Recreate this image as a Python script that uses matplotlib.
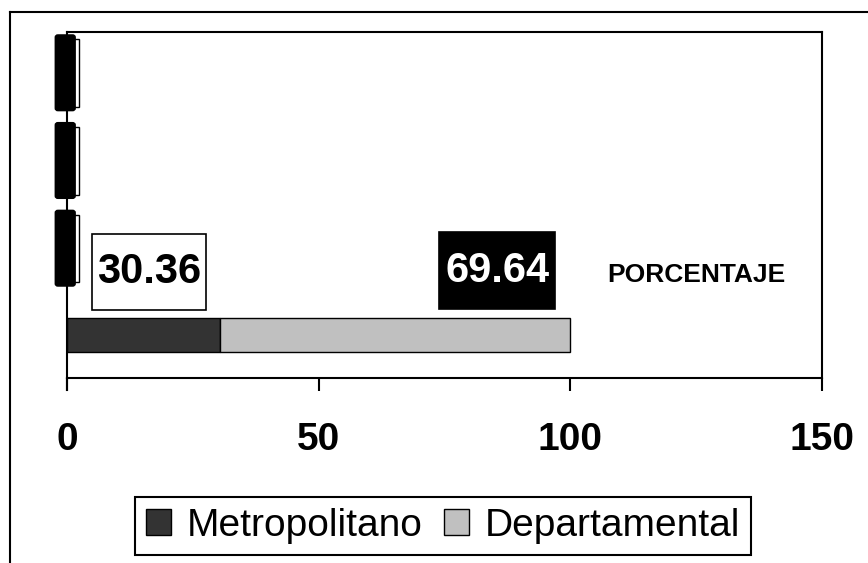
import matplotlib
matplotlib.use("Agg")
import matplotlib.pyplot as plt
import matplotlib.patches as mpatches
from matplotlib.lines import Line2D

plt.rcParams["font.family"] = ["Liberation Sans", "DejaVu Sans"]

# ---- data
categories = ["PORCENTAJE", "", "", ""]
metropolitano = [30.36, 0, 0, 0]
departamental = [69.64, 0, 0, 0]
series_names = ["Metropolitano", "Departamental"]
x_ticks = [0, 50, 100, 150]

DARK = "#333333"
LIGHT = "#c0c0c0"

fig = plt.figure(figsize=(8.68, 5.63), dpi=100, facecolor="white")
ax = fig.add_axes([67 / 868, 1 - 378 / 563, 755 / 868, 346 / 563])

ypos = list(range(len(categories)))
ax.barh(ypos, metropolitano, height=0.39, color=DARK, edgecolor="black",
        lw=1, label=series_names[0])
ax.barh(ypos, departamental, left=metropolitano, height=0.39, color=LIGHT,
        edgecolor="black", lw=1, label=series_names[1])

ax.set_xlim(0, 150)
ax.set_ylim(-0.49, 3.455)
ax.set_xticks(x_ticks)
ax.set_xticklabels([str(t) for t in x_ticks], fontsize=28, fontweight="bold")
ax.tick_params(axis="x", direction="out", length=9, width=1.5, pad=23)
ax.set_yticks([])
for s in ax.spines.values():
    s.set_linewidth(1.5)

# left spine continues down to the tick length like the 0 tick
ax.plot([0, 0], [-0.49, -0.63], color="black", lw=1.5, clip_on=False)

# zero-value labels piled up at x=0 for the empty categories
for y, m, d in zip(ypos, metropolitano, departamental):
    if m == 0 and d == 0:
        ax.add_patch(mpatches.Rectangle((-1.9, y - 0.40), 4.3, 0.77,
                                        facecolor="white", edgecolor="black",
                                        lw=1, clip_on=False, zorder=4))
        ax.add_patch(mpatches.FancyBboxPatch((-2.3, y - 0.44), 3.9, 0.86,
                                             boxstyle="round,pad=0.0,rounding_size=0.5",
                                             mutation_aspect=0.05,
                                             facecolor="black", edgecolor="black",
                                             lw=1.2, clip_on=False, zorder=5))

# data labels for the first category
y0 = ypos[0]
ax.add_patch(mpatches.Rectangle((4.97, y0 + 0.284), 22.63, 0.864,
                                facecolor="white", edgecolor="black", lw=1.2, zorder=4))
ax.text(16.4, y0 + 0.716, f"{metropolitano[0]:.2f}", fontsize=30, fontweight="bold",
        ha="center", va="center", color="black", zorder=6)
ax.add_patch(mpatches.Rectangle((73.9, y0 + 0.295), 23.1, 0.875,
                                facecolor="black", edgecolor="black", lw=1.2, zorder=4))
ax.text(85.5, y0 + 0.735, f"{departamental[0]:.2f}", fontsize=30, fontweight="bold",
        ha="center", va="center", color="white", zorder=6)

ax.text(125.1, y0 + 0.69, categories[0], fontsize=19, fontweight="bold",
        ha="center", va="center", color="black")

leg = fig.legend(loc="center", bbox_to_anchor=(443 / 868, 1 - 526 / 563), ncol=2,
                 fontsize=28, frameon=True, fancybox=False, edgecolor="black",
                 framealpha=1, handlelength=0.64, handleheight=0.64,
                 handletextpad=0.4, columnspacing=0.55, borderpad=0.28,
                 borderaxespad=0)
leg.get_frame().set_linewidth(1.5)

# chart area border (cropped at right and bottom)
fig.add_artist(Line2D([10 / 868, 10 / 868], [1 - 12 / 563, 0], color="black", lw=1.5))
fig.add_artist(Line2D([10 / 868, 1], [1 - 12 / 563, 1 - 12 / 563], color="black", lw=1.5))

fig.savefig("out.png", dpi=100, facecolor="white")
